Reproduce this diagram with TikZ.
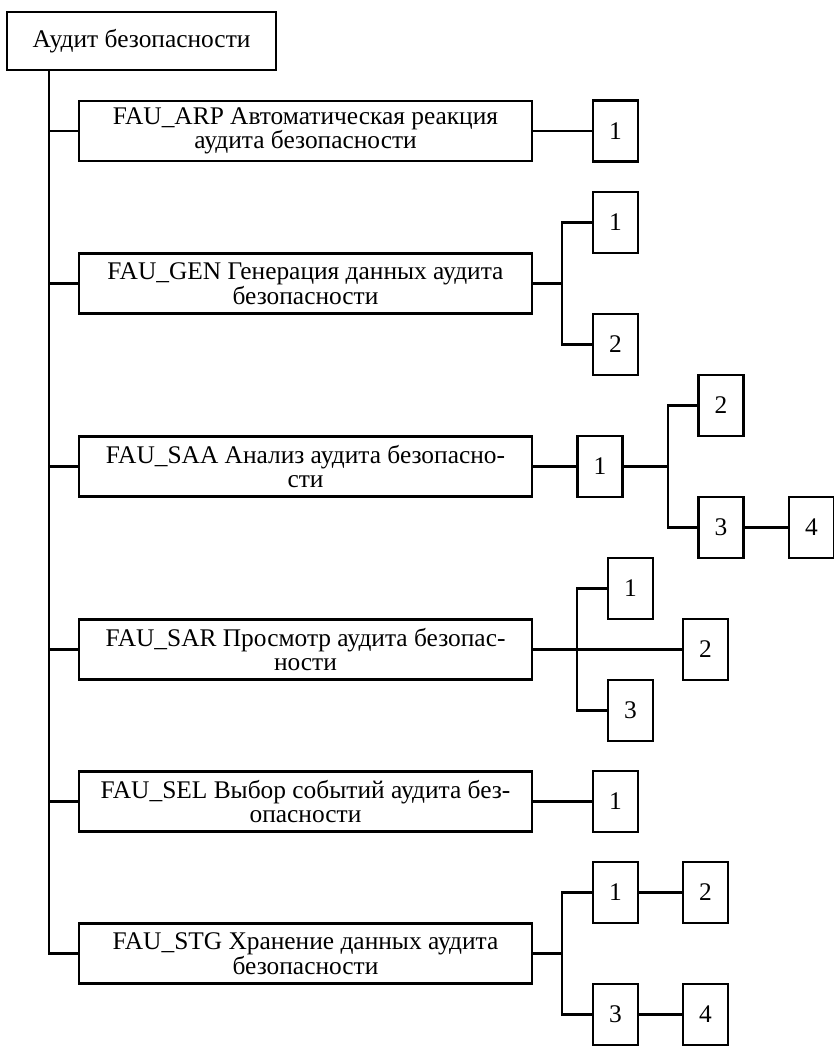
\documentclass[tikz,border=0pt]{standalone}
\usepackage{fontspec}
\setmainfont{Liberation Serif}
\begin{document}
\begin{tikzpicture}[x=1pt,y=-1pt,
  every node/.style={font=\fontsize{25.4}{24.5}\selectfont},
  mainbox/.style={draw,line width=2.1pt,minimum width=453pt,minimum height=60pt,inner sep=0pt,align=center},
  topbox/.style={draw,line width=2.1pt,minimum width=269pt,minimum height=58pt,inner sep=0pt},
  numbox/.style={draw,line width=2.1pt,minimum width=45pt,minimum height=61pt,inner sep=0pt},
  link/.style={line width=2.1pt}]
\useasboundingbox (0,0) rectangle (833,1046);
% root
\node[topbox] (root) at (141.5,41) {Аудит безопасности};
\coordinate (tx) at (49,0);
% main boxes
\node[mainbox] (arp) at (305.5,131) {FAU\_ARP Автоматическая реакция\\аудита безопасности};
\node[mainbox] (gen) at (305.5,283.5) {FAU\_GEN Генерация данных аудита\\безопасности};
\node[mainbox] (saa) at (305.5,466.5) {FAU\_SAA Анализ аудита безопасно-\\сти};
\node[mainbox] (sar) at (305.5,649.5) {FAU\_SAR Просмотр аудита безопас-\\ности};
\node[mainbox] (sel) at (305.5,801.5) {FAU\_SEL Выбор событий аудита без-\\опасности};
\node[mainbox] (stg) at (305.5,953.5) {FAU\_STG Хранение данных аудита\\безопасности};
% trunk
\draw[link] (root.south -| tx) -- (stg.west -| tx) -- (stg.west);
\foreach \b in {arp,gen,saa,sar,sel} \draw[link] (\b.west -| tx) -- (\b.west);
% ARP
\node[numbox] (a1) at (615.5,131) {1};
\draw[link] (arp.east) -- (a1.west);
% GEN
\node[numbox] (g1) at (615.5,222.5) {1};
\node[numbox] (g2) at (615.5,344.5) {2};
\coordinate (jg) at (562,283.5);
\draw[link] (gen.east) -- (jg);
\draw[link] (g1.west) -| (jg) |- (g2.west);
% SAA
\node[numbox] (s1) at (600,466.5) {1};
\node[numbox] (s2) at (721,405.5) {2};
\node[numbox] (s3) at (721,527.5) {3};
\node[numbox] (s4) at (811.5,527.5) {4};
\coordinate (js) at (668,466.5);
\draw[link] (saa.east) -- (s1.west);
\draw[link] (s1.east) -- (js);
\draw[link] (s2.west) -| (js) |- (s3.west);
\draw[link] (s3.east) -- (s4.west);
% SAR
\node[numbox] (r1) at (630.5,588.5) {1};
\node[numbox] (r2) at (705.5,649.5) {2};
\node[numbox] (r3) at (630.5,710.5) {3};
\coordinate (jr) at (577,649.5);
\draw[link] (sar.east) -- (r2.west);
\draw[link] (r1.west) -| (jr) |- (r3.west);
% SEL
\node[numbox] (e1) at (615.5,801.5) {1};
\draw[link] (sel.east) -- (e1.west);
% STG
\node[numbox] (t1) at (615.5,892.5) {1};
\node[numbox] (t2) at (705.5,892.5) {2};
\node[numbox] (t3) at (615.5,1014.5) {3};
\node[numbox] (t4) at (705.5,1014.5) {4};
\coordinate (jt) at (562,953.5);
\draw[link] (stg.east) -- (jt);
\draw[link] (t1.west) -| (jt) |- (t3.west);
\draw[link] (t1.east) -- (t2.west);
\draw[link] (t3.east) -- (t4.west);
\end{tikzpicture}
\end{document}
